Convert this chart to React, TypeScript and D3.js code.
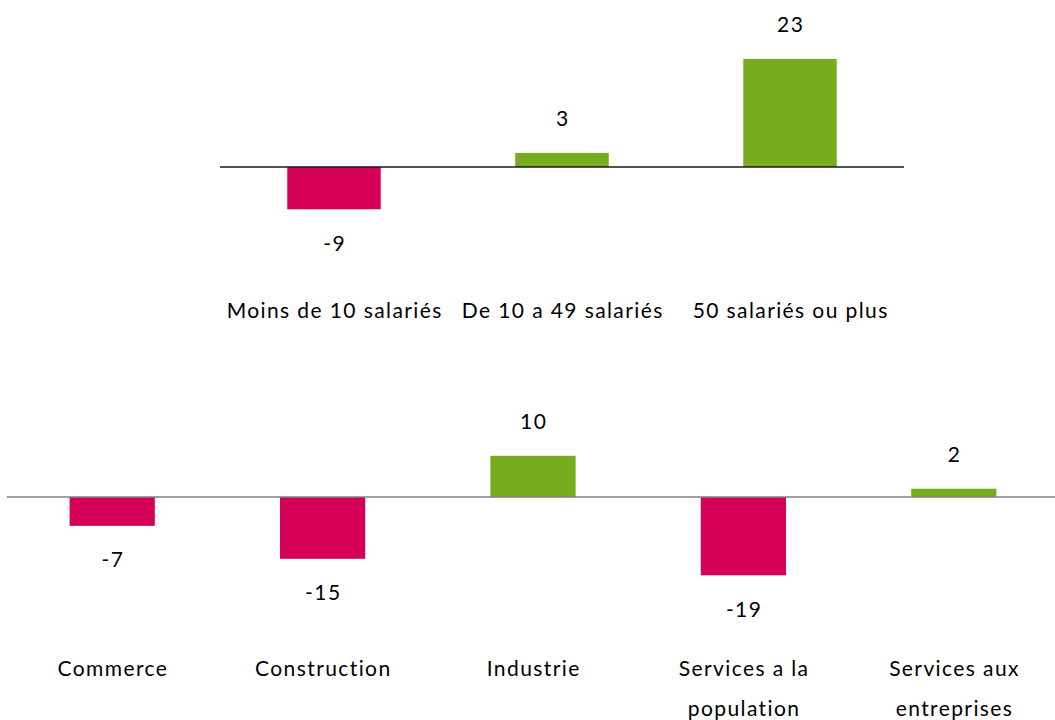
import React from "react";
import * as d3 from "d3";

const sizeCategories = ["Moins de 10 salariés", "De 10 a 49 salariés", "50 salariés ou plus"];
const sizeValues = [-9, 3, 23];

const sectorCategories = [
  ["Commerce"],
  ["Construction"],
  ["Industrie"],
  ["Services a la", "population"],
  ["Services aux", "entreprises"],
];
const sectorValues = [-7, -15, 10, -19, 2];

const POS = "#76AC1E";
const NEG = "#D50057";
const FONT = "Lato, 'Open Sans', sans-serif";
const FS = 21;
const LS = 1.4;

function Panel({
  cats, values, x0, x1, y0, pxPerUnit, axisColor, barFrac, catY, lineGap,
}: {
  cats: string[][]; values: number[]; x0: number; x1: number; y0: number;
  pxPerUnit: number; axisColor: string; barFrac: number; catY: number; lineGap: number;
}) {
  const x = d3.scaleBand<number>().domain(d3.range(cats.length)).range([x0, x1]).paddingInner(0).paddingOuter(0);
  const y = d3.scaleLinear().domain([0, 1]).range([y0, y0 - pxPerUnit]);
  const bw = x.bandwidth() * barFrac;
  return (
    <g>
      {values.map((v, i) => {
        const cx = (x(i) as number) + x.bandwidth() / 2;
        const top = Math.min(y(v), y(0));
        const h = Math.abs(y(v) - y(0));
        const labelY = v >= 0 ? y(v) - 35 : y(v) + 33;
        return (
          <g key={i}>
            <rect x={cx - bw / 2} y={top} width={bw} height={h} fill={v >= 0 ? POS : NEG} />
            <text x={cx + LS / 2} y={labelY} textAnchor="middle" dominantBaseline="central" fontSize={FS} letterSpacing={LS} fontFamily={FONT} fill="#000">
              {v}
            </text>
          </g>
        );
      })}
      <line x1={x0} x2={x1} y1={y0} y2={y0} stroke={axisColor} strokeWidth={1.5} />
      {cats.map((lines, i) => {
        const cx = (x(i) as number) + x.bandwidth() / 2 + LS / 2;
        return (
          <text key={i} x={cx} textAnchor="middle" fontSize={FS} letterSpacing={LS} fontFamily={FONT} fill="#000">
            {lines.map((l, j) => (
              <tspan key={j} x={cx} y={catY + j * lineGap} dominantBaseline="central">{l}</tspan>
            ))}
          </text>
        );
      })}
    </g>
  );
}

export default function App() {
  return (
    <svg width={1055} height={720} style={{ position: "absolute", left: 0, top: 0, background: "#fff" }}>
      <rect width={1055} height={720} fill="#fff" />
      <Panel cats={sizeCategories.map((c) => [c])} values={sizeValues} x0={220} x1={904} y0={167}
        pxPerUnit={4.7} axisColor="#1a1a1a" barFrac={0.41} catY={309} lineGap={40} />
      <Panel cats={sectorCategories} values={sectorValues} x0={7} x1={1059} y0={497}
        pxPerUnit={4.12} axisColor="#808080" barFrac={0.405} catY={667} lineGap={40} />
    </svg>
  );
}
